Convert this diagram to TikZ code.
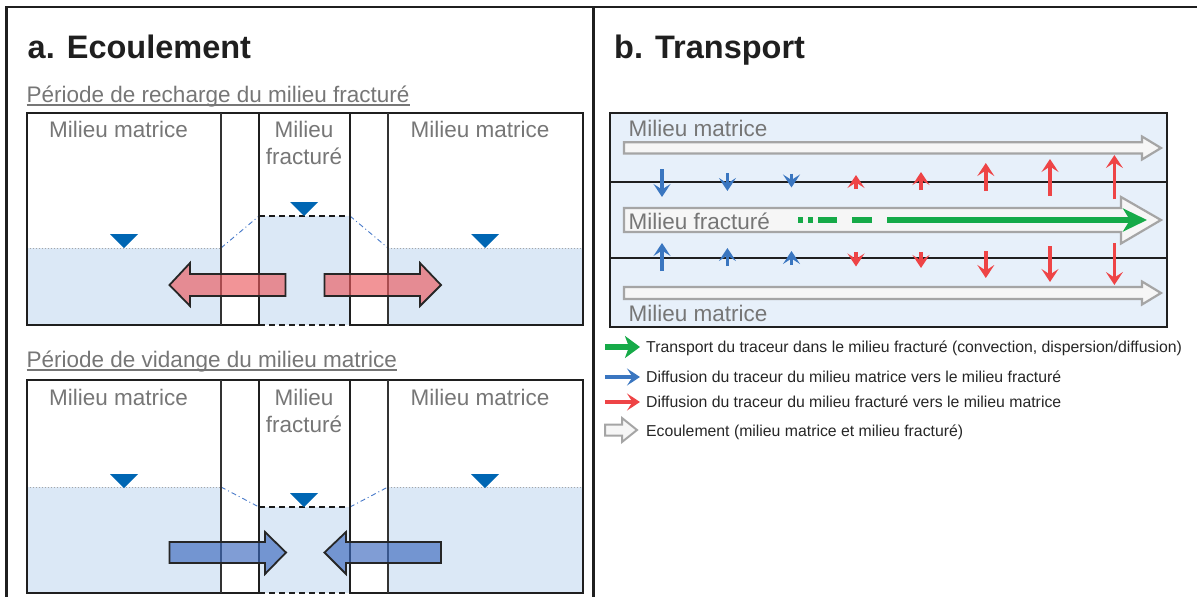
\documentclass[tikz,border=0pt]{standalone}
\usepackage{fontspec}
\setmainfont{Liberation Sans}
\usetikzlibrary{arrows.meta}
\definecolor{wblue}{RGB}{219,232,246}
\definecolor{tblue}{RGB}{0,102,179}
\definecolor{txtgray}{RGB}{118,118,118}
\definecolor{rboxfill}{RGB}{231,240,250}
\definecolor{agray}{RGB}{165,165,165}
\definecolor{afill}{RGB}{246,246,246}
\definecolor{dgreen}{RGB}{22,170,72}
\definecolor{dblue}{RGB}{58,118,192}
\definecolor{dred}{RGB}{238,68,70}
\definecolor{pinkfill}{RGB}{235,90,95}
\definecolor{bluefill}{RGB}{60,105,190}
\definecolor{lblue}{RGB}{70,120,200}
\begin{document}
\begin{tikzpicture}[x=1pt,y=-1pt,
  lbl/.style={font=\fontsize{22.5}{24}\selectfont, text=txtgray, inner sep=0pt},
  titletxt/.style={font=\fontsize{32.5}{34}\selectfont\bfseries, text=black!88, inner sep=0pt, anchor=base west},
  legtxt/.style={font=\fontsize{15.8}{17}\selectfont, text=black!85, inner sep=0pt, anchor=base west},
  tri/.style={fill=tblue, draw=none},
  water/.style={fill=wblue, draw=none},
  wlevel/.style={draw=black!35, line width=1pt, dotted},
  flevel/.style={draw=black!90, line width=1.6pt, dash pattern=on 6pt off 4pt},
  dashdot/.style={draw=lblue, line width=0.9pt, dash pattern=on 5pt off 3pt on 1pt off 3pt},
  boxline/.style={draw=black!88, line width=2pt},
  bigarrow/.style={draw=black!85, line width=1.8pt, fill opacity=0.65, line join=miter},
  hollow/.style={draw=agray, fill=afill, line width=2.2pt, line join=miter},
  difftip/.style={-{Stealth[length=13pt,width=17pt,inset=5.5pt]}},
  diffb/.style={draw=dblue, line width=3.4pt, difftip},
  diffr/.style={draw=dred, line width=3.4pt, difftip},
  grn/.style={draw=dgreen, line width=5.5pt}
]
\useasboundingbox (0,0) rectangle (1197,597);
% frame
\draw[line width=2.2pt, black!88] (6.5,597) -- (6.5,7) -- (1197,7);
\draw[line width=3pt, black!88] (593.5,7) -- (593.5,597);

% titles
\node[titletxt] (ta) at (27.5,58) {a. Ecoulement};
\node[titletxt] (tb) at (614,58) {b. Transport};

% ===== top-left panel =====
\node[lbl, anchor=base west] (h1) at (26.5,102) {Période de recharge du milieu fracturé};
\draw[draw=txtgray, line width=1.5pt] ([yshift=-3pt]h1.base west) -- ([yshift=-3pt]h1.base east);
\fill[water] (27,248) rectangle (221,325);
\fill[water] (388,248) rectangle (583,325);
\fill[water] (259,216) rectangle (350,325);
\draw[wlevel] (27,248) -- (221,248);
\draw[wlevel] (388,248) -- (583,248);
\draw[flevel] (259,216) -- (350,216);
\draw[dashdot] (221,248) -- (259,216);
\draw[dashdot] (350,216) -- (388,248);
\draw[boxline] (259,325) -- (27,325) -- (27,113) -- (583,113) -- (583,325) -- (350,325);
\draw[boxline, dash pattern=on 6pt off 4pt] (259,325) -- (350,325);
\draw[boxline, black!80] (221,113) -- (221,325);
\draw[boxline, black!80] (388,113) -- (388,325);
\draw[boxline] (259,113) -- (259,325);
\draw[boxline] (350,113) -- (350,325);
\fill[tri] (110,234) -- (138,234) -- (124,248) -- cycle;
\fill[tri] (290,202) -- (318,202) -- (304,216) -- cycle;
\fill[tri] (471,234) -- (499,234) -- (485,248) -- cycle;
\node[lbl, anchor=base] (m1) at (118.6,137) {Milieu matrice};
\node[lbl, anchor=base] (m2) at (480,137) {Milieu matrice};
\node[lbl, anchor=base] (f1) at (304,137) {Milieu};
\node[lbl, anchor=base] (f1b) at (304,164) {fracturé};
\draw[bigarrow, fill=pinkfill] (285.5,274) -- (190,274) -- (190,263) -- (169.5,285) -- (190,306) -- (190,296) -- (285.5,296) -- cycle;
\draw[bigarrow, fill=pinkfill] (324.5,274) -- (420,274) -- (420,263) -- (441,285) -- (420,306) -- (420,296) -- (324.5,296) -- cycle;

% ===== bottom-left panel =====
\node[lbl, anchor=base west] (h2) at (26.5,367) {Période de vidange du milieu matrice};
\draw[draw=txtgray, line width=1.5pt] ([yshift=-3pt]h2.base west) -- ([yshift=-3pt]h2.base east);
\fill[water] (27,487) rectangle (221,593);
\fill[water] (388,487) rectangle (583,593);
\fill[water] (259,507) rectangle (350,593);
\draw[wlevel] (27,487) -- (221,487);
\draw[wlevel] (388,487) -- (583,487);
\draw[flevel] (259,507) -- (350,507);
\draw[dashdot] (221,487) -- (259,507);
\draw[dashdot] (350,507) -- (388,487);
\draw[boxline] (259,593) -- (27,593) -- (27,380) -- (583,380) -- (583,593) -- (350,593);
\draw[boxline, dash pattern=on 6pt off 4pt] (259,593) -- (350,593);
\draw[boxline, black!80] (221,380) -- (221,593);
\draw[boxline, black!80] (388,380) -- (388,593);
\draw[boxline] (259,380) -- (259,593);
\draw[boxline] (350,380) -- (350,593);
\fill[tri] (110,474) -- (138,474) -- (124,488) -- cycle;
\fill[tri] (290,493) -- (318,493) -- (304,507) -- cycle;
\fill[tri] (471,474) -- (499,474) -- (485,488) -- cycle;
\node[lbl, anchor=base] (m3) at (118.6,405) {Milieu matrice};
\node[lbl, anchor=base] (m4) at (480,405) {Milieu matrice};
\node[lbl, anchor=base] (f2) at (304,405) {Milieu};
\node[lbl, anchor=base] (f2b) at (304,432) {fracturé};
\draw[bigarrow, fill=bluefill] (169.5,542) -- (265,542) -- (265,532) -- (286,552.5) -- (265,574) -- (265,563) -- (169.5,563) -- cycle;
\draw[bigarrow, fill=bluefill] (441,542) -- (346,542) -- (346,532) -- (324.5,552.5) -- (346,574) -- (346,563) -- (441,563) -- cycle;

% ===== right panel =====
\draw[fill=rboxfill, draw=black!88, line width=2.4pt] (610,113) rectangle (1167,327);
\draw[boxline] (610,182) -- (1167,182);
\draw[boxline] (610,258) -- (1167,258);
\draw[hollow] (624,142.3) -- (1142,142.3) -- (1142,136.5) -- (1161,148) -- (1142,159.5) -- (1142,153.5) -- (624,153.5) -- cycle;
\draw[hollow] (624,208) -- (1121,208) -- (1121,197) -- (1161,220) -- (1121,243.5) -- (1121,232) -- (624,232) -- cycle;
\draw[hollow] (624,287) -- (1142,287) -- (1142,281.5) -- (1161,293) -- (1142,304.5) -- (1142,299) -- (624,299) -- cycle;
\node[lbl, anchor=base west] (rm1) at (628.5,136) {Milieu matrice};
\node[lbl, anchor=base west] (rf) at (628.5,229) {Milieu fracturé};
\node[lbl, anchor=base west] (rm2) at (628.5,321) {Milieu matrice};
% green transport
\draw[grn] (798,220) -- (803,220);
\draw[grn] (808,220) -- (813,220);
\draw[grn] (818,220) -- (837,220);
\draw[grn] (852,220) -- (872,220);
\draw[grn, -{Stealth[length=24pt,width=23pt,inset=7pt]}] (887,220) -- (1147,220);
% diffusion arrows, top row
\draw[diffb] (662,169) -- (662,197);
\draw[diffb] (727.4,173) -- (727.4,191);
\draw[diffb] (791.5,173.5) -- (791.5,187.5);
\draw[diffr] (856,189) -- (856,175);
\draw[diffr] (921,190) -- (921,172);
\draw[diffr] (985.8,191) -- (985.8,163);
\draw[diffr] (1050,196) -- (1050,159);
\draw[diffr] (1114.4,199) -- (1114.4,155);
% diffusion arrows, bottom row
\draw[diffb] (662,271) -- (662,243);
\draw[diffb] (727.4,266) -- (727.4,248);
\draw[diffb] (791.5,265) -- (791.5,251);
\draw[diffr] (856,252) -- (856,266.5);
\draw[diffr] (921,252) -- (921,268);
\draw[diffr] (985.8,251) -- (985.8,278);
\draw[diffr] (1050,246) -- (1050,282);
\draw[diffr] (1114.4,243) -- (1114.4,285);

% ===== legend =====
\draw[draw=dgreen, line width=6pt, -{Stealth[length=15pt,width=22pt,inset=4pt]}] (605,347) -- (640,347);
\draw[draw=dblue, line width=3.4pt, difftip] (605,377) -- (640,377);
\draw[draw=dred, line width=3.4pt, difftip] (605,402) -- (640,402);
\draw[hollow, line width=2pt] (605,424.5) -- (622,424.5) -- (622,418) -- (637,430) -- (622,442) -- (622,435.5) -- (605,435.5) -- cycle;
\node[legtxt] (l1) at (646,352.5) {Transport du traceur dans le milieu fracturé (convection, dispersion/diffusion)};
\node[legtxt] (l2) at (646,382.5) {Diffusion du traceur du milieu matrice vers le milieu fracturé};
\node[legtxt] (l3) at (646,407.5) {Diffusion du traceur du milieu fracturé vers le milieu matrice};
\node[legtxt] (l4) at (646,436) {Ecoulement (milieu matrice et milieu fracturé)};
\end{tikzpicture}
\end{document}
